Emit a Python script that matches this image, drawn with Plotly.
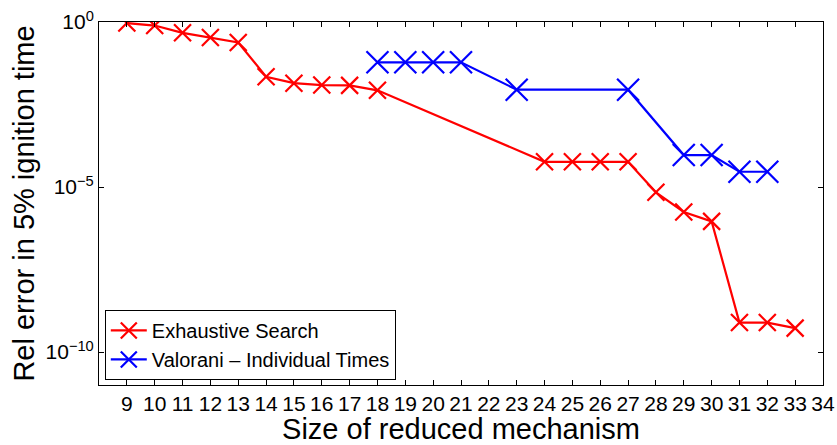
import plotly.graph_objects as go

# Exhaustive search: mechanism size vs relative error
es_size = [9, 10, 11, 12, 13, 14, 15, 16, 17, 18, 24, 25, 26, 27, 28, 29, 30, 31, 32, 33]
es_err = [0.93, 0.78, 0.47, 0.34, 0.24, 0.022, 0.014, 0.0123, 0.012, 0.0085,
          5.8e-5, 5.8e-5, 5.8e-5, 5.8e-5, 6.9e-6, 1.75e-6, 9.1e-7, 7.8e-10, 7.8e-10, 5.3e-10]

# Valorani individual-times reduction
val_size = [18, 19, 20, 21, 23, 27, 29, 30, 31, 32]
val_err = [0.06, 0.06, 0.06, 0.06, 0.0089, 0.0089, 9.3e-5, 9.3e-5, 2.9e-5, 2.9e-5]

x_ticks = list(range(9, 35))
y_tickvals = [1, 1e-5, 1e-10]
y_ticktext = ["10<sup>0</sup>", "10<sup>\u22125</sup>", "10<sup>\u221210</sup>"]

fig = go.Figure()
fig.add_trace(go.Scatter(
    x=es_size, y=es_err, mode="lines+markers", name="Exhaustive Search",
    line=dict(color="#ff0000", width=2.2),
    marker=dict(symbol="x-thin-open", size=17, line=dict(color="#ff0000", width=2.2)),
))
fig.add_trace(go.Scatter(
    x=val_size, y=val_err, mode="lines+markers", name="Valorani \u2013 Individual Times",
    line=dict(color="#0000ff", width=2.2),
    marker=dict(symbol="x-thin-open", size=22, line=dict(color="#0000ff", width=2.2)),
))

axis_common = dict(
    showline=True, linecolor="black", linewidth=1, mirror="ticks",
    ticks="inside", ticklen=5, tickcolor="black", showgrid=False, zeroline=False,
    tickfont=dict(size=21, color="black"), automargin=False,
)

fig.update_layout(
    width=837, height=445,
    margin=dict(l=99, r=14, t=22, b=60),
    paper_bgcolor="white", plot_bgcolor="white",
    font=dict(family="Liberation Sans, Arial, sans-serif", color="black"),
    showlegend=True,
    legend=dict(
        x=0.008, y=0.014, xanchor="left", yanchor="bottom",
        bgcolor="white", bordercolor="black", borderwidth=1,
        font=dict(size=20, color="black"), tracegroupgap=0, itemwidth=36,
    ),
    xaxis=dict(
        range=[8, 34], tickvals=x_ticks, ticktext=[str(v) for v in x_ticks],
        title=dict(text="Size of reduced mechanism", font=dict(size=29), standoff=0),
        **axis_common,
    ),
    yaxis=dict(
        type="log", range=[-11, 0], tickvals=y_tickvals, ticktext=y_ticktext,
        title=dict(text="Rel error in 5% ignition time", font=dict(size=29), standoff=2),
        **axis_common,
    ),
)

fig.write_html("out.html")
